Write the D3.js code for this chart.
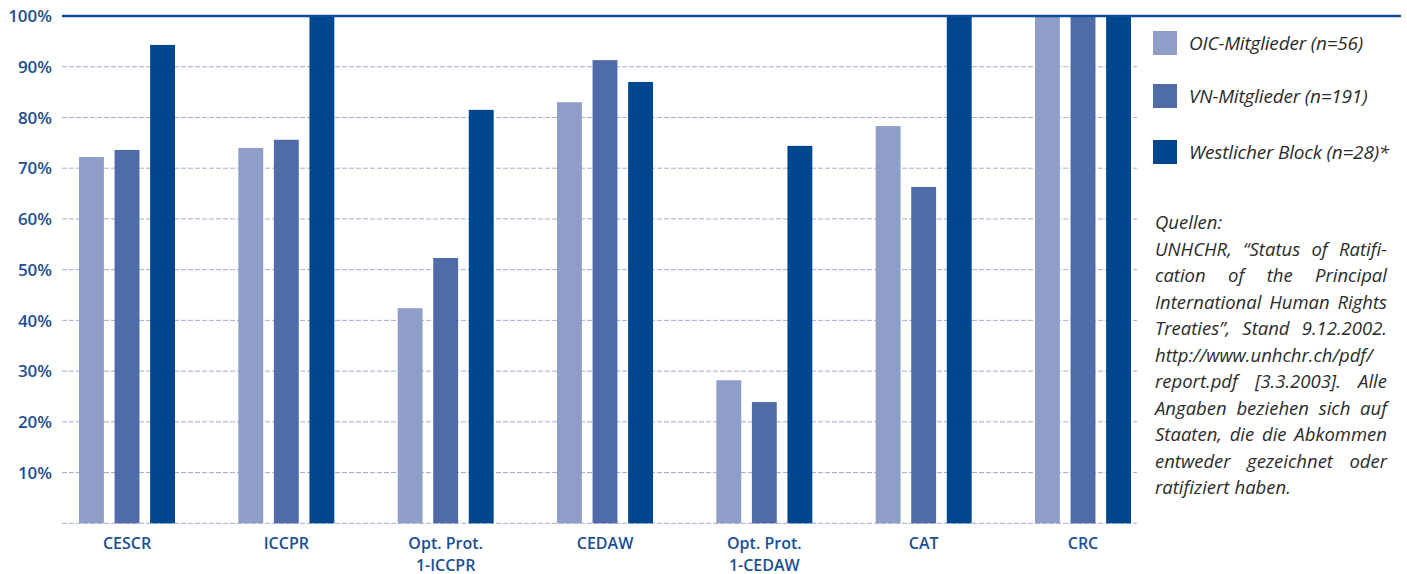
<!DOCTYPE html>
<html>
<head>
<meta charset="utf-8">
<script src="https://cdn.jsdelivr.net/npm/d3@7"></script>
<style>
  html, body { margin: 0; padding: 0; background: #fff; }
  svg { display: block; }
</style>
</head>
<body>
<svg id="chart" width="1407" height="574"></svg>
<script>
// ---- data ----
const categories = ["CESCR", "ICCPR", "Opt. Prot.\n1-ICCPR", "CEDAW", "Opt. Prot.\n1-CEDAW", "CAT", "CRC"];
const seriesNames = ["OIC-Mitglieder (n=56)", "VN-Mitglieder (n=191)", "Westlicher Block (n=28)*"];
const oicValues = [72.2, 74.0, 42.4, 83.0, 28.2, 78.3, 100];
const vnValues = [73.6, 75.6, 52.3, 91.3, 23.9, 66.3, 100];
const westValues = [94.3, 100, 81.5, 87.0, 74.4, 100, 100];
const tickValues = [0, 10, 20, 30, 40, 50, 60, 70, 80, 90, 100];
const sourceLines = [
  "Quellen:",
  "UNHCHR, “Status of Ratifi-",
  "cation of the Principal",
  "International Human Rights",
  "Treaties”, Stand 9.12.2002.",
  "http://www.unhchr.ch/pdf/",
  "report.pdf [3.3.2003]. Alle",
  "Angaben beziehen sich auf",
  "Staaten, die die Abkommen",
  "entweder gezeichnet oder",
  "ratifiziert haben."
];

// ---- styles ----
const colors = ["#8f9ec8", "#506ca8", "#00478f"];
const axisColor = "#1b4f93";
const svg = d3.select("#chart");

const plotLeft = 62, plotRight = 1137, plotTop = 16, plotBottom = 523.3;
const y = d3.scaleLinear().domain([0, 100]).range([plotBottom, plotTop]);
const x0 = d3.scalePoint().domain(categories).range([127, 1083]);
const x1 = d3.scaleBand().domain(seriesNames).range([-48, 48]).paddingInner(0.3);

const seriesValues = [oicValues, vnValues, westValues];

// grid lines (dashed)
svg.append("g").selectAll("line")
  .data(tickValues.filter(t => t < 100))
  .join("line")
  .attr("x1", plotLeft).attr("x2", plotRight)
  .attr("y1", d => y(d)).attr("y2", d => y(d))
  .attr("stroke", "#a3aed1")
  .attr("stroke-width", 1)
  .attr("stroke-dasharray", "5,2");

// bars
const groups = svg.append("g").selectAll("g")
  .data(categories)
  .join("g")
  .attr("transform", d => `translate(${x0(d)},0)`);

groups.selectAll("rect")
  .data((d, i) => seriesNames.map((s, j) => ({ s, j, v: seriesValues[j][i] })))
  .join("rect")
  .attr("x", d => x1(d.s))
  .attr("width", x1.bandwidth())
  .attr("y", d => y(d.v))
  .attr("height", d => plotBottom - y(d.v))
  .attr("fill", d => colors[d.j]);

// top 100% line
svg.append("line")
  .attr("x1", plotLeft).attr("x2", 1401)
  .attr("y1", y(100)).attr("y2", y(100))
  .attr("stroke", "#0f4d9a")
  .attr("stroke-width", 2.4);

// y tick labels
svg.append("g").selectAll("text")
  .data(tickValues.filter(t => t > 0))
  .join("text")
  .attr("x", 52)
  .attr("y", d => y(d))
  .attr("dy", "0.36em")
  .attr("text-anchor", "end")
  .attr("font-family", "'Open Sans', sans-serif")
  .attr("font-weight", 600)
  .attr("font-size", 17)
  .attr("fill", axisColor)
  .text(d => d + "%");

// x category labels
const catLabels = svg.append("g").selectAll("text")
  .data(categories)
  .join("text")
  .attr("text-anchor", "middle")
  .attr("font-family", "'Open Sans', sans-serif")
  .attr("font-weight", 600)
  .attr("font-size", 16)
  .attr("fill", axisColor);
catLabels.selectAll("tspan")
  .data(d => d.split("\n").map(t => ({ t, c: d })))
  .join("tspan")
  .attr("x", d => x0(d.c))
  .attr("y", (d, i) => 549 + i * 21.5)
  .text(d => d.t);

// legend
const legend = svg.append("g").selectAll("g")
  .data(seriesNames)
  .join("g")
  .attr("transform", (d, i) => `translate(1153,${[31, 84, 140][i]})`);
legend.append("rect")
  .attr("width", 24).attr("height", 24)
  .attr("fill", (d, i) => colors[i]);
legend.append("text")
  .attr("x", 36).attr("y", 19)
  .attr("font-family", "'Open Sans', sans-serif")
  .attr("font-style", "italic")
  .attr("font-size", 19)
  .attr("letter-spacing", -0.2)
  .attr("fill", "#2b2b2b")
  .text(d => d);

// source text, justified
const srcLeft = 1155, srcRight = 1387;
const src = svg.append("g")
  .attr("font-family", "'Open Sans', sans-serif")
  .attr("font-style", "italic")
  .attr("font-size", 18.5)
  .attr("fill", "#2b2b2b");
sourceLines.forEach((line, li) => {
  const yy = 229 + li * 26.5;
  const words = line.split(" ");
  const justify = li > 0 && li < sourceLines.length - 1 && words.length > 1;
  const t = src.append("text").attr("y", yy);
  const spans = words.map(w => t.append("tspan").attr("x", srcLeft).text(w));
  const widths = spans.map(s => s.node().getComputedTextLength());
  const total = d3.sum(widths);
  const space = 5;
  const gap = justify ? (srcRight - srcLeft - total) / (words.length - 1) : space;
  let cx = srcLeft;
  spans.forEach((s, k) => { s.attr("x", cx); cx += widths[k] + gap; });
});
</script>
</body>
</html>
